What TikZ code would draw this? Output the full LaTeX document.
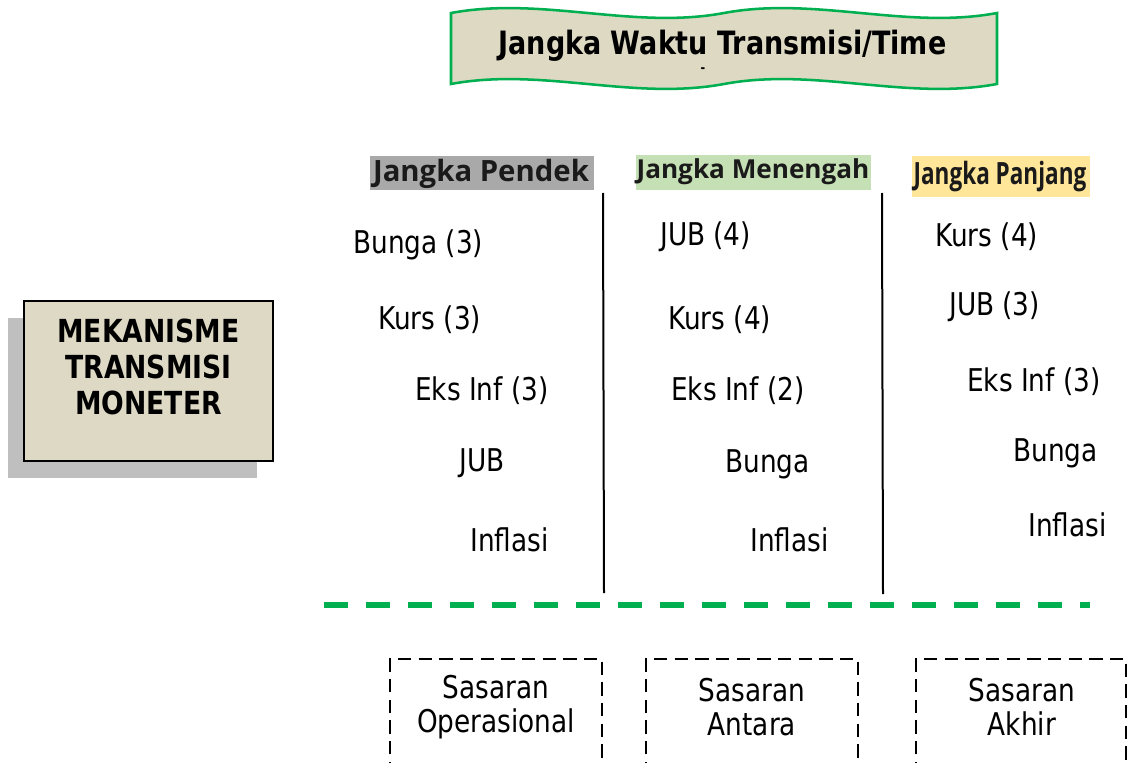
\documentclass[tikz,border=0pt]{standalone}
\usepackage{fontspec}
\setmainfont{DejaVu Sans}[FakeStretch=0.84]
\newfontfamily\hdfont{Open Sans}
\definecolor{bannerfill}{HTML}{DDD9C3}
\definecolor{bannerline}{HTML}{00B050}
\definecolor{boxfill}{HTML}{DDD9C4}
\definecolor{shadowgray}{HTML}{BFBFBF}
\definecolor{hdgray}{HTML}{A9A9A9}
\definecolor{hdgreen}{HTML}{C5E0B4}
\definecolor{hdyellow}{HTML}{FFE699}
\definecolor{hdtext}{HTML}{1A1A1A}
\tikzset{
  item/.style={anchor=west, inner sep=0pt, font=\fontsize{23.5}{28}\selectfont},
  hdbox/.style={inner sep=0pt, text=hdtext},
  colline/.style={line width=1.5pt, black},
  sasline/.style={line width=1.5pt, black, dash pattern=on 10pt off 5.5pt},
  sastext/.style={align=center, inner sep=0pt, font=\fontsize{23.5}{25.5}\selectfont},
}
\begin{document}
\begin{tikzpicture}[x=0.75pt,y=-0.75pt]
\clip (0,0) rectangle (1128,763);
\fill[white] (0,0) rectangle (1128,763);
% banner
\filldraw[fill=bannerfill, draw=bannerline, line width=1.9pt]
  (451,13) .. controls (542,-4) and (633,30) .. (724,13)
  .. controls (815,-4) and (906,30) .. (997,13)
  -- (997,84)
  .. controls (906,101) and (815,67) .. (724,84)
  .. controls (633,101) and (542,67) .. (451,84) -- cycle;
\node[inner sep=0pt, font=\bfseries\fontsize{24.1}{28}\selectfont] (title) at (722.5,46) {Jangka Waktu Transmisi/Time};
\node[inner sep=0pt, font=\bfseries\fontsize{10}{12}\selectfont] (titledash) at (703,70) {-};
% left box
\fill[shadowgray] (8,318) rectangle (257,478);
\node[draw=black, line width=1.3pt, fill=boxfill, minimum width=186.75pt, minimum height=120pt, inner sep=0pt] (mek) at (148.5,381) {};
\node[align=center, inner sep=0pt, font=\bfseries\fontsize{23.8}{27}\selectfont] (mektext) at (148.5,367) {MEKANISME\\TRANSMISI\\MONETER};
% headers
\node[hdbox, fill=hdgray, minimum width=168pt, minimum height=25.5pt] (hpendek) at (482,173) {};
\node[inner sep=0pt, text=hdtext, font=\hdfont\bfseries\fontsize{22}{24}\selectfont] (tpendek) at (481,174) {Jangka Pendek};
\node[hdbox, fill=hdgreen, minimum width=176.25pt, minimum height=26.25pt] (hmenengah) at (753.5,172.5) {};
\node[inner sep=0pt, text=hdtext, font=\hdfont\bfseries\fontsize{19.6}{22}\selectfont] (tmenengah) at (753,172) {Jangka Menengah};
\node[hdbox, fill=hdyellow, minimum width=133.5pt, minimum height=30.75pt] (hpanjang) at (1001,176.5) {};
\node[inner sep=0pt, text=hdtext, font=\hdfont\bfseries\fontsize{23}{26}\selectfont] (tpanjang) at (1000,177) {\scalebox{0.735}[1]{Jangka Panjang}};
% column separators
\coordinate (s1t) at (603,193);
\coordinate (s1b) at (604,593);
\coordinate (s2t) at (882,193);
\coordinate (s2b) at (883,594);
\draw[colline] (s1t) -- (s1b);
\draw[colline] (s2t) -- (s2b);
% column 1
\node[item] (a1) at (353,245) {Bunga (3)};
\node[item] (a2) at (378,320) {Kurs (3)};
\node[item] (a3) at (415,391) {Eks Inf (3)};
\node[item] (a4) at (459,463) {JUB};
\node[item] (a5) at (470,540) {Inflasi};
% column 2
\node[item] (b1) at (660,237) {JUB (4)};
\node[item] (b2) at (668,320) {Kurs (4)};
\node[item] (b3) at (671,391) {Eks Inf (2)};
\node[item] (b4) at (725,464) {Bunga};
\node[item] (b5) at (750,540) {Inflasi};
% column 3
\node[item] (c1) at (935,237) {Kurs (4)};
\node[item] (c2) at (949,307) {JUB (3)};
\node[item] (c3) at (967,382) {Eks Inf (3)};
\node[item] (c4) at (1013,453) {Bunga};
\node[item] (c5) at (1028,525) {Inflasi};
% green dashed line
\coordinate (gl) at (324,605);
\coordinate (gr) at (1090,605);
\draw[bannerline, line width=4.5pt, dash pattern=on 18pt off 13.5pt] (gl) -- (gr);
% bottom boxes
\draw[sasline] (390,775) -- (390,659) -- (602,659) -- (602,775);
\draw[sasline] (646,775) -- (646,659) -- (858,659) -- (858,775);
\draw[sasline] (916,775) -- (916,659) -- (1126,659) -- (1126,775);
\node[sastext] (sas1) at (496,707) {Sasaran\\Operasional};
\node[sastext] (sas2) at (752,707) {Sasaran\\Antara};
\node[sastext] (sas3) at (1022,707) {Sasaran\\Akhir};
\end{tikzpicture}
\end{document}
